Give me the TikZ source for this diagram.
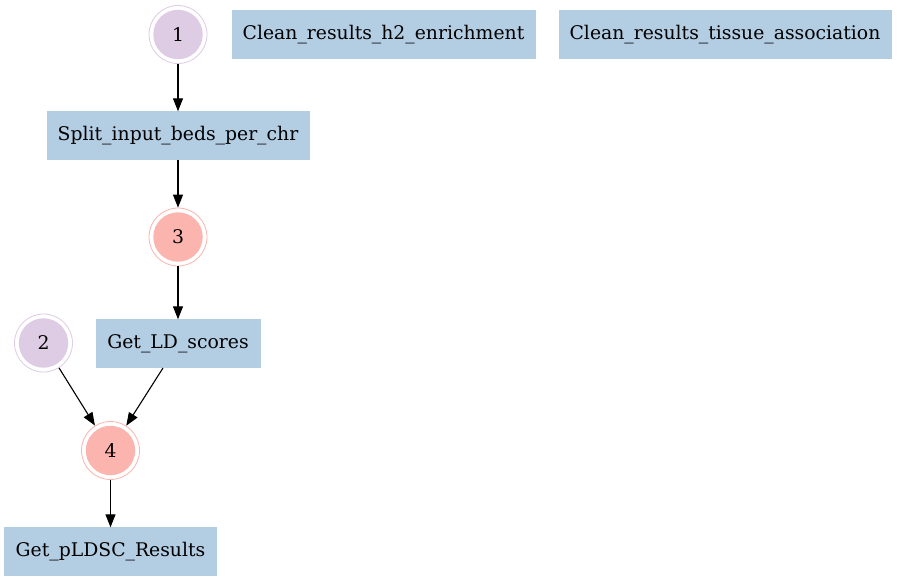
\documentclass[tikz,border=0pt]{standalone}
\usepackage{fontspec}
\setmainfont{DejaVu Serif}
\usetikzlibrary{arrows.meta}
\definecolor{boxblue}{HTML}{B3CDE3}
\definecolor{purp}{HTML}{DECBE4}
\definecolor{salmon}{HTML}{FBB4AE}
\begin{document}
\begin{tikzpicture}[x=1pt,y=-1pt,
  every node/.style={font=\fontsize{18.8}{22}\selectfont},
  taskbox/.style={rectangle,fill=boxblue,draw=boxblue,minimum height=48pt,inner sep=0pt},
  dcirc/.style={circle,draw=#1,line width=0.8pt,minimum size=58pt,inner sep=0pt,
     path picture={\fill[#1] (path picture bounding box.center) circle (24.7pt);}},
  conn/.style={-{Triangle[length=13pt,width=10pt]},line width=1.1pt,black}]
\useasboundingbox (0,0) rectangle (897,581);
\fill[white] (0,0) rectangle (897,581);
\node[dcirc=purp] (n1) at (178,34.5) {1};
\node[taskbox,minimum width=303pt] (h2) at (383.5,34.5) {Clean\_results\_h2\_enrichment};
\node[taskbox,minimum width=332pt] (tis) at (725,34.5) {Clean\_results\_tissue\_association};
\node[taskbox,minimum width=262pt] (split) at (178,135.5) {Split\_input\_beds\_per\_chr};
\node[dcirc=salmon] (n3) at (178,237) {3};
\node[taskbox,minimum width=164pt] (ld) at (178,343.5) {Get\_LD\_scores};
\node[dcirc=purp] (n2) at (43.5,343) {2};
\node[dcirc=salmon] (n4) at (110.5,450.5) {4};
\node[taskbox,minimum width=212pt] (res) at (110.5,551.5) {Get\_pLDSC\_Results};
\coordinate (ldc) at (163,368);
\draw[conn] (n1) -- (split);
\draw[conn] (split) -- (n3);
\draw[conn] (n3) -- (ld);
\draw[conn] (n2) -- (n4);
\draw[conn] (ldc) -- (n4);
\draw[conn] (n4) -- (res);
\end{tikzpicture}
\end{document}
